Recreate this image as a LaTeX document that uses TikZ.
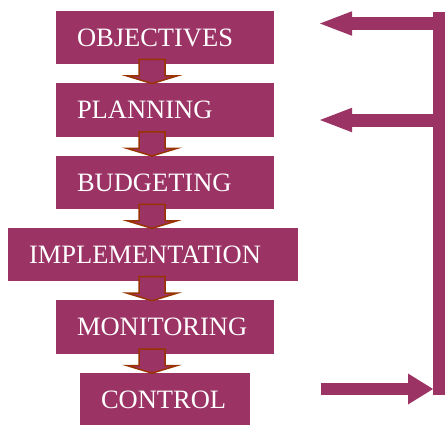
\documentclass[tikz,border=0pt]{standalone}
\usepackage{fontspec}
\setmainfont{Liberation Serif}
\usepackage{tikz}
\usetikzlibrary{arrows.meta}
\usetikzlibrary{calc}
\usetikzlibrary{positioning}
\definecolor{boxpurple}{RGB}{155, 51, 101}
\definecolor{flowbrown}{RGB}{153, 51, 0}
\tikzset{stage/.style = {fill = boxpurple, text = white, align = left,
                         inner xsep = 21pt, inner ysep = 0pt, minimum height = 53.5pt,
                         text height = 17.5pt, text depth = 0pt,
                         font = \fontsize{26.5}{30}\selectfont}}
\tikzset{flow/.style = {fill = boxpurple, draw = flowbrown, line width = 1.5pt,
                        to path = {let \p1 = (\tikztostart), \p2 = (\tikztotarget) in
                                   (\x1 - 13pt, \y1 + 5pt) -- (\x1 + 13pt, \y1 + 5pt)
                                   -- (\x1 + 13pt, \y2 + 7pt) -- (\x1 + 25pt, \y2 + 7pt)
                                   -- (\x1, \y2 - 0.6pt) -- (\x1 - 25pt, \y2 + 7pt)
                                   -- (\x1 - 13pt, \y2 + 7pt) -- cycle}}}
\tikzset{feedback/.style = {draw = boxpurple, line width = 13pt}}

\begin{document}
\begin{tikzpicture}[x = 1pt, y = -1pt]
      \useasboundingbox (0, 0) rectangle (445, 424);

      \node [stage, text width = 176pt] (obj) at (165, 37.5) {OBJECTIVES};
      \node [stage, text width = 176pt, below = 18.5pt of obj] (plan) {PLANNING};
      \node [stage, text width = 176pt, below = 18.5pt of plan] (budget) {BUDGETING};
      \node [stage, text width = 248pt, below = 18.5pt of budget, xshift = -12pt] (impl) {IMPLEMENTATION};
      \node [stage, text width = 176pt, below = 18.5pt of impl, xshift = 12pt] (monitor) {MONITORING};
      \node [stage, text width = 128pt, below = 18.5pt of monitor] (ctrl) {CONTROL};

      \foreach \a/\b/\dx in {obj/plan/-13, plan/budget/-13, budget/impl/-13, impl/monitor/-1, monitor/ctrl/-13}
        \draw [flow] ([xshift = \dx pt]\a.south) to (\b.north);

      \coordinate (bartop) at (439, 11.5);
      \coordinate (barbot) at (439, 395);
      \coordinate (objin) at (320, 23.5);
      \coordinate (planin) at (320, 120);
      \coordinate (ctrlout) at (321, 389);
      \coordinate (ctrlin) at (433, 389);

      \draw [feedback, line width = 12pt] (barbot) -- (bartop);
      \draw [feedback, -{Triangle[length = 32pt, width = 24.5pt, line width = 0pt]}] (bartop |- objin) -- (objin);
      \draw [feedback, -{Triangle[length = 32pt, width = 24.5pt, line width = 0pt]}] (bartop |- planin) -- (planin);
      \draw [feedback, line width = 12pt, -{Triangle[length = 25pt, width = 31pt, line width = 0pt]}] (ctrlout) -- (ctrlin);
    \end{tikzpicture}
\end{document}
